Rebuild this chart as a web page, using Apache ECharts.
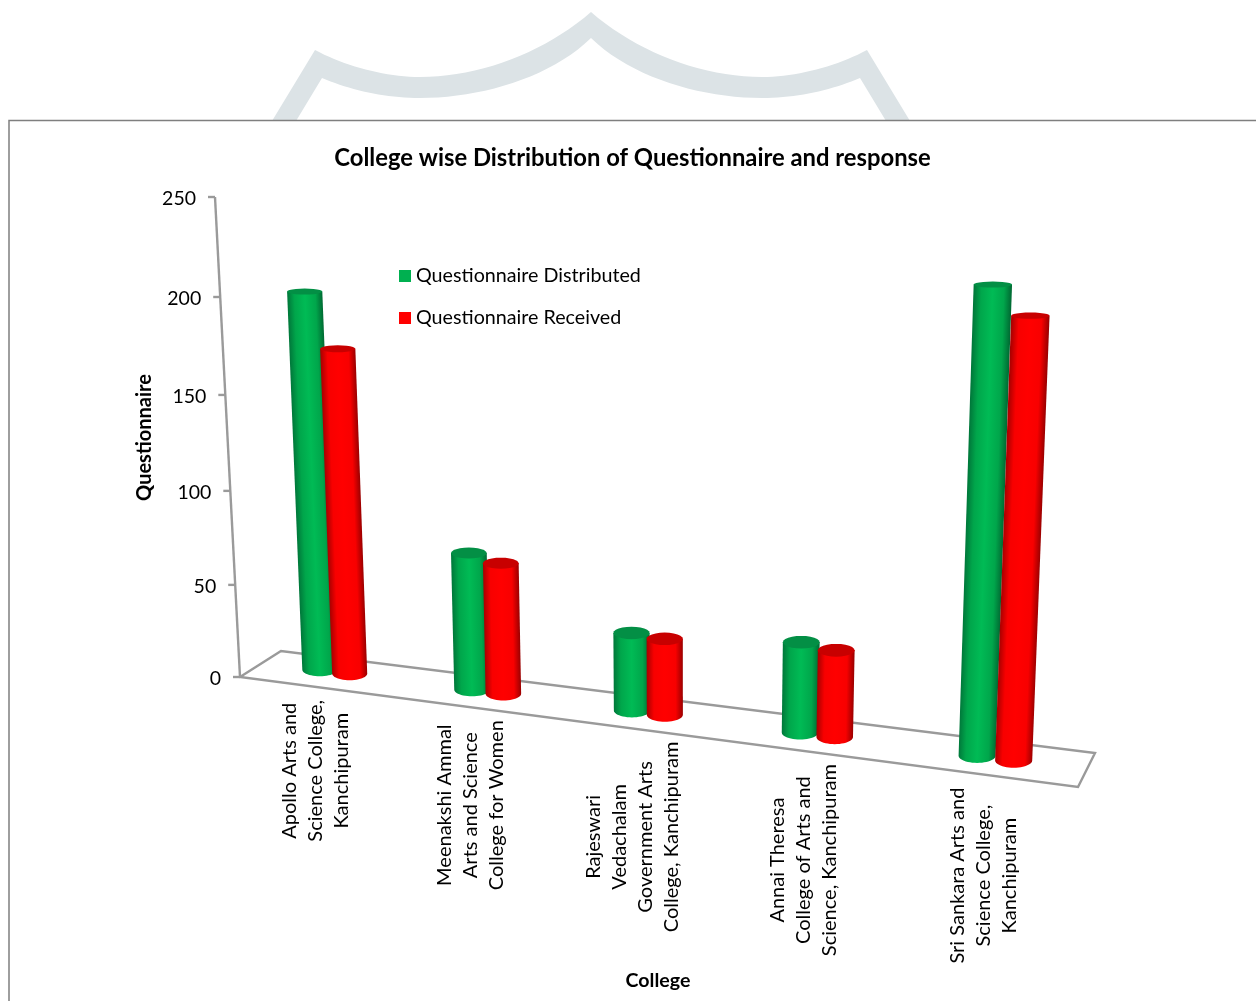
<!DOCTYPE html>
<html>
<head>
<meta charset="utf-8">
<style>html,body{margin:0;padding:0;background:#fff}#c{width:1256px;height:1001px}</style>
<script src="https://cdn.jsdelivr.net/npm/echarts@6/dist/echarts.min.js"></script>
</head>
<body>
<div id="c"></div>
<script>
const categories = [
  "Apollo Arts and\nScience College,\nKanchipuram",
  "Meenakshi Ammal\nArts and Science\nCollege for Women",
  "Rajeswari\nVedachalam\nGovernment Arts\nCollege, Kanchipuram",
  "Annai Theresa\nCollege of Arts and\nScience, Kanchipuram",
  "Sri Sankara Arts and\nScience College,\nKanchipuram"
];
const distributed = [200, 72.5, 40.5, 46, 225];
const received = [172, 69, 39.5, 44, 212];
const yTicks = [0, 50, 100, 150, 200, 250];

const FONT = 'Lato, "Open Sans", sans-serif';
const GRID = {left: 240, top: 198, width: 840, height: 479};
const LINE = '#9a9a9a';

// perspective of the bar plane: grid position (u,t in 0..1) -> page position
const PA = -0.119, PB = -0.05;
function warp(u, t) {
  const w = 1 + PA * u + PB * t;
  return [(261 + 697.5 * u - 34 * t) / w, (662 + 16.4 * u - 482.75 * t) / w];
}
function toUT(p) { return [(p[0] - GRID.left) / GRID.width, (GRID.top + GRID.height - p[1]) / GRID.height]; }
// the slanted value axis
function axisPoint(t) {
  const s = t * (1 + PB) / (1 + PB * t);
  return [240 - 25 * s, 677 - 480 * s];
}
function floorEdgeY(x) { return 677 + (787 - 677) / (1078 - 240) * (x - 240); }

function ellipsePts(c, rx, ry, from, to) {
  const pts = [];
  for (let i = 0; i <= 24; i++) {
    const a = from + (to - from) * i / 24;
    pts.push([c[0] + rx * Math.cos(a), c[1] + ry * Math.sin(a)]);
  }
  return pts;
}
function ryAt(y) { return 3 + Math.max(0, y - 295) * 0.0095; }

function cylinderRender(side, stops, topColor) {
  return function (params, api) {
    const p0 = api.coord([api.value(0), 0]);
    const p1 = api.coord([api.value(0), api.value(1)]);
    const du = side * 0.1 * api.size([1, 0])[0] / GRID.width;
    const b = toUT(p0), a = toUT(p1);
    const cB = warp(b[0] + du, 0), cT = warp(a[0] + du, a[1]);
    const u = b[0];
    const wB = (34.8 + 2.5 * u) / 2, wT = (34.8 + 4 * u) / 2;
    const hT = Math.min(1, a[1] / 0.8), hwTop = wB + (wT - wB) * hT;
    const ryB = ryAt(cB[1]), ryT = ryAt(cT[1]);
    const body = [[cT[0] - hwTop, cT[1]]]
      .concat(ellipsePts(cB, wB, ryB, Math.PI, 0))
      .concat([[cT[0] + hwTop, cT[1]]]);
    const mx = (cB[0] + cT[0]) / 2, my = (cB[1] + cT[1]) / 2;
    const dx = cT[0] - cB[0], dy = cT[1] - cB[1], L = Math.hypot(dx, dy);
    const px = -dy / L, py = dx / L, hw = (wB + hwTop) / 2;
    const sx = px >= 0 ? 1 : -1;
    const grad = new echarts.graphic.LinearGradient(
      mx - sx * px * hw, my - sx * py * hw, mx + sx * px * hw, my + sx * py * hw,
      stops.map(s => ({offset: s[0], color: s[1]})), true);
    return {
      type: 'group',
      children: [
        {type: 'polygon', shape: {points: body}, style: {fill: grad}},
        {type: 'polygon', shape: {points: ellipsePts(cT, hwTop, ryT, 0, Math.PI * 2)}, style: {fill: topColor}}
      ]
    };
  };
}

function curve(p0, c1, c2, p1) {
  const out = [];
  for (let i = 0; i <= 20; i++) {
    const s = i / 20, r = 1 - s;
    out.push([
      r*r*r*p0[0] + 3*r*r*s*c1[0] + 3*r*s*s*c2[0] + s*s*s*p1[0],
      r*r*r*p0[1] + 3*r*r*s*c1[1] + 3*r*s*s*c2[1] + s*s*s*p1[1]
    ]);
  }
  return out;
}
function mirror(pts) { return pts.map(p => [1182 - p[0], p[1]]).reverse(); }
const outerLeft = [[272,121]].concat(curve([315,50],[345,66],[385,77],[420,77])).concat(curve([420,77],[480,77],[545,52],[591,12]));
const innerLeft = [[296,121]].concat(curve([322,78],[350,90],[385,98],[420,98])).concat(curve([420,98],[480,98],[550,78],[591,38]));
const markPts = outerLeft.concat(mirror(outerLeft)).concat(innerLeft.concat(mirror(innerLeft)).reverse());

const measure = document.createElement('canvas').getContext('2d');
const LABEL_SIZE = 20;
measure.font = LABEL_SIZE + 'px ' + FONT;

const option = {
  animation: false,
  backgroundColor: '#ffffff',
  textStyle: {fontFamily: FONT, color: '#000'},
  title: {
    text: 'College wise Distribution of Questionnaire and response',
    left: 627.5, top: 141, textAlign: 'center',
    textStyle: {fontFamily: FONT, fontWeight: 'bold', fontSize: 23.8, color: '#000'}
  },
  legend: {
    left: 399, top: 266, padding: 0, orient: 'vertical', icon: 'rect',
    itemWidth: 12, itemHeight: 12, itemGap: 22,
    textStyle: {fontFamily: FONT, fontSize: 19.7, color: '#000'},
    data: [
      {name: 'Questionnaire Distributed', itemStyle: {color: '#00B050'}},
      {name: 'Questionnaire Received', itemStyle: {color: '#FF0000'}}
    ]
  },
  grid: GRID,
  xAxis: {
    type: 'category', data: categories,
    axisLine: {show: false}, axisTick: {show: false}, axisLabel: {show: false},
    name: 'College', nameLocation: 'middle', nameGap: 294,
    nameTextStyle: {fontFamily: FONT, fontWeight: 'bold', fontSize: 19.6, color: '#000', padding: [0, 4, 0, 0]}
  },
  yAxis: {
    type: 'value', min: 0, max: 250, interval: 50,
    axisLine: {show: false}, axisTick: {show: false}, axisLabel: {show: false}, splitLine: {show: false},
    name: 'Questionnaire', nameLocation: 'middle', nameGap: 85,
    nameTextStyle: {fontFamily: FONT, fontWeight: 'bold', fontSize: 20, color: '#000'}
  },
  graphic: [
    {type: 'polygon', z: -20, shape: {points: markPts}, style: {fill: '#dce3e6'}},
    {type: 'rect', z: -10, shape: {x: 9, y: 120.5, width: 1300, height: 1000}, style: {fill: '#fff', stroke: '#7f7f7f', lineWidth: 1.5}},
    {type: 'polygon', z: 0, shape: {points: [[240,677],[281,651],[1095,753],[1078,787]]}, style: {fill: 'none', stroke: LINE, lineWidth: 2.4}},
    {type: 'line', z: 0, shape: {x1: 240, y1: 677, x2: 215, y2: 197}, style: {stroke: LINE, lineWidth: 2.4}}
  ],
  series: [
    {
      name: 'yAxisTicks', type: 'custom', coordinateSystem: 'cartesian2d', silent: true,
      data: yTicks.map(v => [0, v]), encode: {x: 0, y: 1},
      renderItem: function (params, api) {
        const t = toUT(api.coord([0, api.value(1)]))[1];
        const p = axisPoint(t);
        return {type: 'group', children: [
          {type: 'line', shape: {x1: p[0] - 7, y1: p[1], x2: p[0], y2: p[1]}, style: {stroke: LINE, lineWidth: 2.4}},
          {type: 'text', x: p[0] - 19, y: p[1] + 1.5, style: {text: String(api.value(1)), fontFamily: FONT, fontSize: 19.5, fill: '#000', align: 'right', verticalAlign: 'middle'}}
        ]};
      }
    },
    {
      name: 'xAxisLabels', type: 'custom', coordinateSystem: 'cartesian2d', silent: true,
      data: categories.map((c, i) => [i, 0]), encode: {x: 0, y: 1},
      renderItem: function (params, api) {
        const i = api.value(0);
        const u = toUT(api.coord([i, 0]))[0];
        const x = warp(u, 0)[0] - 20.5 + 10 * u;
        const lines = categories[i].split('\n');
        const maxW = Math.max.apply(null, lines.map(l => measure.measureText(l).width));
        const y = floorEdgeY(x) + 13 + maxW / 2;
        return {type: 'text', x: x, y: y, rotation: Math.PI / 2,
          style: {text: categories[i], fontFamily: FONT, fontSize: LABEL_SIZE, lineHeight: 26, fill: '#000', align: 'center', verticalAlign: 'middle'}};
      }
    },
    {
      name: 'Questionnaire Distributed', type: 'custom', coordinateSystem: 'cartesian2d', itemStyle: {color: '#00B050'},
      data: distributed.map((v, i) => [i, v]), encode: {x: 0, y: 1},
      renderItem: cylinderRender(-1, [[0,'#00773a'],[0.2,'#00a64b'],[0.5,'#00bb55'],[0.8,'#00a64b'],[1,'#006a33']], '#038f45')
    },
    {
      name: 'Questionnaire Received', type: 'custom', coordinateSystem: 'cartesian2d', itemStyle: {color: '#FF0000'},
      data: received.map((v, i) => [i, v]), encode: {x: 0, y: 1},
      renderItem: cylinderRender(1, [[0,'#a80000'],[0.2,'#f80000'],[0.5,'#ff0000'],[0.8,'#f80000'],[1,'#9a0000']], '#c80000')
    }
  ]
};
const chart = echarts.init(document.getElementById('c'), null, {renderer: 'canvas'});
chart.setOption(option);
</script>
</body>
</html>
